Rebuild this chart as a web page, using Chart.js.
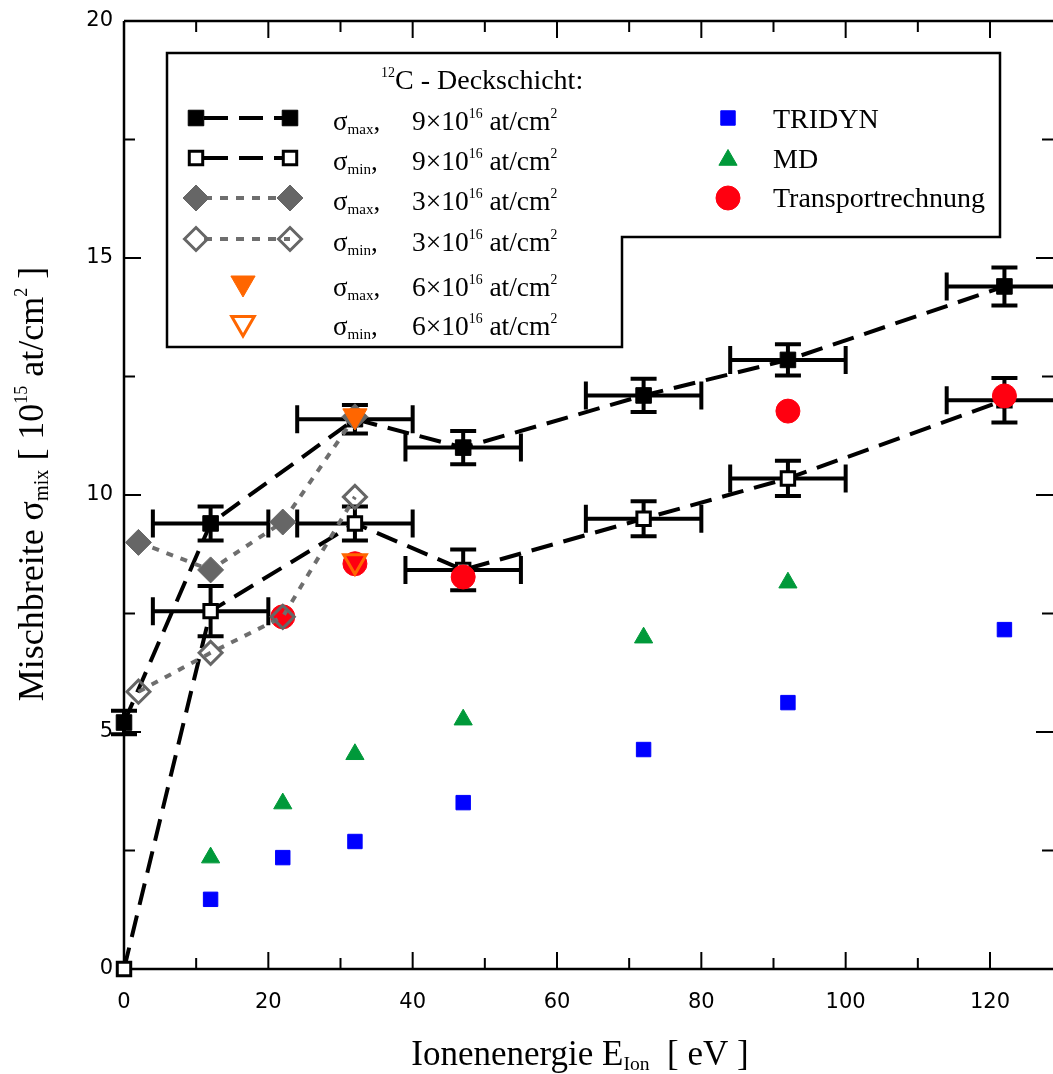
<!DOCTYPE html>
<html>
<head>
<meta charset="utf-8">
<script src="https://cdn.jsdelivr.net/npm/chart.js@4.4.1/dist/chart.umd.min.js"></script>
<style>
  html, body { margin: 0; padding: 0; background: #fff; overflow: hidden; }
  #wrap { width: 1053px; height: 1074px; }
  #myChart { display: block; }
</style>
</head>
<body>
<div id="wrap"><canvas id="myChart" width="1053" height="1074"></canvas></div>
<script>
// 12C cover layer, 9e16 at/cm2 (with error bars)
const energy = [0, 12, 32, 47, 72, 92, 122];
const sigmaMax9 = [5.2, 9.4, 11.6, 11.0, 12.1, 12.85, 14.4];
const sigmaMax9ErrX = [0, 8, 8, 8, 8, 8, 8];
const sigmaMax9ErrY = [0.25, 0.36, 0.3, 0.35, 0.35, 0.33, 0.4];
const sigmaMin9 = [0, 7.55, 9.4, 8.42, 9.5, 10.35, 12.0];
const sigmaMin9ErrX = [0, 8, 8, 8, 8, 8, 8];
const sigmaMin9ErrY = [0, 0.53, 0.36, 0.43, 0.37, 0.37, 0.47];

// 3e16 at/cm2
const energy3 = [2, 12, 22, 32];
const sigmaMax3 = [9.0, 8.42, 9.43, 11.65];
const sigmaMin3 = [5.85, 6.67, 7.43, 9.96];

// 6e16 at/cm2
const energy6 = [32];
const sigmaMax6 = [11.67];
const sigmaMin6 = [8.6];

// simulations
const tridynE = [12, 22, 32, 47, 72, 92, 122];
const tridyn = [1.47, 2.35, 2.69, 3.51, 4.63, 5.62, 7.16];
const mdE = [12, 22, 32, 47, 72, 92];
const md = [2.35, 3.49, 4.53, 5.26, 6.99, 8.15];
const transportE = [22, 32, 47, 92, 122];
const transport = [7.43, 8.55, 8.27, 11.77, 12.09];

const xTicks = [0, 20, 40, 60, 80, 100, 120];
const xMinor = [10, 30, 50, 70, 90, 110];
const yTicks = [0, 5, 10, 15, 20];
const yMinor = [2.5, 7.5, 12.5, 17.5];

const serif = '"Liberation Serif", "Times New Roman", serif';
const tickFont = '21px "DejaVu Sans", sans-serif';
const ORANGE = '#ff6600';
const GREY = '#666666';

function pts(xs, ys) {
  return xs.map((v, i) => ({ x: v, y: ys[i] }));
}

// text with sub/superscripts; returns total width
function drawRich(ctx, x, y, parts, size, measureOnly) {
  let cx = x;
  for (const [t, kind] of parts) {
    let fs = size, dy = 0;
    if (kind === 'sub') { fs = size * 0.56; dy = size * 0.15; }
    if (kind === 'sup') { fs = size * 0.5; dy = -size * 0.44; }
    ctx.font = fs + 'px ' + serif;
    if (!measureOnly) ctx.fillText(t, cx, y + dy);
    cx += ctx.measureText(t).width;
  }
  return cx - x;
}

const errorBars = {
  id: 'errorBars',
  beforeDatasetsDraw(chart) {
    const { ctx, scales: { x, y } } = chart;
    const sets = [
      [energy, sigmaMax9, sigmaMax9ErrX, sigmaMax9ErrY],
      [energy, sigmaMin9, sigmaMin9ErrX, sigmaMin9ErrY]
    ];
    ctx.save();
    ctx.strokeStyle = '#000';
    ctx.lineWidth = 4;
    for (const [xs, ys, ex, ey] of sets) {
      xs.forEach((xv, i) => {
        const px = x.getPixelForValue(xv);
        const py = y.getPixelForValue(ys[i]);
        ctx.beginPath();
        if (ex[i] > 0) {
          const l = x.getPixelForValue(xv - ex[i]);
          const r = x.getPixelForValue(xv + ex[i]);
          ctx.moveTo(l, py); ctx.lineTo(r, py);
          ctx.moveTo(l, py - 14); ctx.lineTo(l, py + 14);
          ctx.moveTo(r, py - 14); ctx.lineTo(r, py + 14);
        }
        if (ey[i] > 0) {
          const t = y.getPixelForValue(ys[i] + ey[i]);
          const b = y.getPixelForValue(ys[i] - ey[i]);
          ctx.moveTo(px, t); ctx.lineTo(px, b);
          ctx.moveTo(px - 13, t); ctx.lineTo(px + 13, t);
          ctx.moveTo(px - 13, b); ctx.lineTo(px + 13, b);
        }
        ctx.stroke();
      });
    }
    ctx.restore();
  }
};

// frame, inward ticks, tick labels and axis titles
const frame = {
  id: 'frame',
  beforeDatasetsDraw(chart) {
    const { ctx, chartArea: a, scales: { x, y } } = chart;
    ctx.save();
    ctx.strokeStyle = '#000';
    ctx.lineWidth = 2.5;
    ctx.beginPath();
    ctx.moveTo(a.left, a.top); ctx.lineTo(a.right, a.top);
    ctx.moveTo(a.left, a.top); ctx.lineTo(a.left, a.bottom);
    ctx.moveTo(a.left, a.bottom); ctx.lineTo(a.right, a.bottom);
    ctx.stroke();

    ctx.lineWidth = 2;
    ctx.beginPath();
    const tick = (v, len, isX) => {
      if (isX) {
        const p = x.getPixelForValue(v);
        ctx.moveTo(p, a.bottom); ctx.lineTo(p, a.bottom - len);
        ctx.moveTo(p, a.top); ctx.lineTo(p, a.top + len);
      } else {
        const p = y.getPixelForValue(v);
        ctx.moveTo(a.left, p); ctx.lineTo(a.left + len, p);
        ctx.moveTo(a.right, p); ctx.lineTo(a.right - len, p);
      }
    };
    xTicks.forEach(v => tick(v, 17, true));
    xMinor.forEach(v => tick(v, 11, true));
    yTicks.forEach(v => tick(v, 17, false));
    yMinor.forEach(v => tick(v, 11, false));
    ctx.stroke();

    ctx.fillStyle = '#000';
    ctx.font = tickFont;
    ctx.textBaseline = 'middle';
    ctx.textAlign = 'center';
    xTicks.forEach(v => ctx.fillText(String(v), x.getPixelForValue(v), a.bottom + 34));
    ctx.textAlign = 'right';
    yTicks.forEach(v => ctx.fillText(String(v), a.left - 11, y.getPixelForValue(v)));

    ctx.textBaseline = 'alphabetic';
    ctx.textAlign = 'left';
    const xt = [['Ionenenergie E', ''], ['Ion', 'sub'], ['  [ eV ]', '']];
    const xw = drawRich(ctx, 0, 0, xt, 35, true);
    drawRich(ctx, 580 - xw / 2, 1065, xt, 35);

    const yt = [['Mischbreite ', ''], ['σ', ''], ['mix', 'sub'], [' [ 10', ''], ['15', 'sup'],
      [' at/cm', ''], ['2', 'sup'], [' ]', '']];
    const yw = drawRich(ctx, 0, 0, yt, 36, true);
    ctx.translate(43, 484);
    ctx.rotate(-Math.PI / 2);
    drawRich(ctx, -yw / 2, 0, yt, 36);
    ctx.restore();
  }
};

const legendBox = {
  id: 'legendBox',
  afterDraw(chart) {
    const ctx = chart.ctx;
    const drawPoint = Chart.helpers.drawPoint;
    ctx.save();
    ctx.lineWidth = 2.5;
    ctx.strokeStyle = '#000';
    ctx.fillStyle = '#fff';
    ctx.beginPath();
    ctx.moveTo(167, 53); ctx.lineTo(1000, 53); ctx.lineTo(1000, 237);
    ctx.lineTo(622, 237); ctx.lineTo(622, 347); ctx.lineTo(167, 347);
    ctx.closePath();
    ctx.fill();
    ctx.stroke();

    ctx.fillStyle = '#000';
    ctx.textBaseline = 'alphabetic';
    ctx.textAlign = 'left';
    drawRich(ctx, 381, 89, [['12', 'sup'], ['C - Deckschicht:', '']], 28);

    const rows = [
      { y: 118, base: 130, sub: 'max', dose: '9', line: 'dash', style: 'rect', r: 11, fill: '#000', stroke: '#000', bw: 1 },
      { y: 158, base: 170, sub: 'min', dose: '9', line: 'dash', style: 'rect', r: 9.5, fill: '#fff', stroke: '#000', bw: 3 },
      { y: 198, base: 210, sub: 'max', dose: '3', line: 'dot', style: 'rectRot', r: 13, fill: GREY, stroke: GREY, bw: 1 },
      { y: 239, base: 251, sub: 'min', dose: '3', line: 'dot', style: 'rectRot', r: 11.5, fill: 'rgba(0,0,0,0)', stroke: GREY, bw: 3 },
      { y: 283, base: 296, sub: 'max', dose: '6', line: null, style: 'triangle', r: 14, fill: ORANGE, stroke: ORANGE, bw: 1 },
      { y: 323, base: 335, sub: 'min', dose: '6', line: null, style: 'triangle', r: 13, fill: 'rgba(0,0,0,0)', stroke: ORANGE, bw: 3 }
    ];
    rows.forEach(row => {
      const marks = row.line ? [196, 290] : [243];
      if (row.line) {
        ctx.save();
        ctx.lineWidth = 4;
        if (row.line === 'dash') {
          ctx.strokeStyle = '#000';
          ctx.setLineDash([24, 11]);
        } else {
          ctx.strokeStyle = '#6e6e6e';
          ctx.setLineDash([8, 8]);
        }
        ctx.lineDashOffset = -8;
        ctx.beginPath();
        ctx.moveTo(196, row.y); ctx.lineTo(290, row.y);
        ctx.stroke();
        ctx.restore();
      }
      marks.forEach(mx => {
        ctx.fillStyle = row.fill;
        ctx.strokeStyle = row.stroke;
        ctx.lineWidth = row.bw;
        drawPoint(ctx, { pointStyle: row.style, radius: row.r, rotation: row.style === 'triangle' ? 180 : 0, borderWidth: row.bw }, mx, row.y);
      });
      ctx.fillStyle = '#000';
      drawRich(ctx, 333, row.base, [['σ', ''], [row.sub, 'sub'], [',', '']], 27);
      drawRich(ctx, 412, row.base, [[row.dose + '×10', ''], ['16', 'sup'], [' at/cm', ''], ['2', 'sup']], 27.5);
    });

    const sims = [
      { y: 118, base: 128, text: 'TRIDYN', style: 'rect', r: 10.2, color: '#0000ff' },
      { y: 160, base: 168, text: 'MD', style: 'triangle', r: 10.5, color: '#00993a' },
      { y: 198, base: 207, text: 'Transportrechnung', style: 'circle', r: 12, color: '#ff0010' }
    ];
    sims.forEach(s => {
      ctx.fillStyle = s.color;
      ctx.strokeStyle = s.color;
      ctx.lineWidth = 1;
      drawPoint(ctx, { pointStyle: s.style, radius: s.r, rotation: 0, borderWidth: 1 }, 728, s.y);
      ctx.fillStyle = '#000';
      ctx.font = '28px ' + serif;
      ctx.fillText(s.text, 773, s.base);
    });
    ctx.restore();
  }
};

const dashed = { showLine: true, borderColor: '#000', borderWidth: 4, borderDash: [22, 11] };
const dotted = { showLine: true, borderColor: '#6e6e6e', borderWidth: 4, borderDash: [7, 8] };

const datasets = [
  { label: 'σmax 6e16', data: pts(energy6, sigmaMax6), pointStyle: 'triangle', pointRotation: 180, pointRadius: 14,
    backgroundColor: ORANGE, borderColor: ORANGE, pointBorderWidth: 1, order: 0 },
  { label: 'σmin 6e16', data: pts(energy6, sigmaMin6), pointStyle: 'triangle', pointRotation: 180, pointRadius: 13,
    backgroundColor: 'rgba(0,0,0,0)', borderColor: ORANGE, pointBorderWidth: 3, order: 1 },
  Object.assign({ label: 'σmin 3e16', data: pts(energy3, sigmaMin3), pointStyle: 'rectRot', pointRadius: 11.5,
    pointBackgroundColor: 'rgba(0,0,0,0)', pointBorderColor: GREY, pointBorderWidth: 3, order: 2 }, dotted),
  Object.assign({ label: 'σmax 3e16', data: pts(energy3, sigmaMax3), pointStyle: 'rectRot', pointRadius: 13,
    pointBackgroundColor: GREY, pointBorderColor: GREY, pointBorderWidth: 1, order: 3 }, dotted),
  { label: 'Transportrechnung', data: pts(transportE, transport), pointStyle: 'circle', pointRadius: 12,
    backgroundColor: '#ff0010', borderColor: '#ff0010', pointBorderWidth: 1, order: 4 },
  Object.assign({ label: 'σmin 9e16', data: pts(energy, sigmaMin9), pointStyle: 'rect', pointRadius: 9.5,
    pointBackgroundColor: '#fff', pointBorderColor: '#000', pointBorderWidth: 3, order: 5 }, dashed),
  Object.assign({ label: 'σmax 9e16', data: pts(energy, sigmaMax9), pointStyle: 'rect', pointRadius: 11,
    pointBackgroundColor: '#000', pointBorderColor: '#000', pointBorderWidth: 1, order: 6 }, dashed),
  { label: 'MD', data: pts(mdE, md), pointStyle: 'triangle', pointRadius: 10.5,
    backgroundColor: '#00993a', borderColor: '#00993a', pointBorderWidth: 1, order: 7 },
  { label: 'TRIDYN', data: pts(tridynE, tridyn), pointStyle: 'rect', pointRadius: 10.2,
    backgroundColor: '#0000ff', borderColor: '#0000ff', pointBorderWidth: 1, order: 8 }
];
datasets.forEach(d => { d.clip = false; d.pointHoverRadius = d.pointRadius; });

const config = {
  type: 'scatter',
  data: { datasets: datasets },
  options: {
    responsive: false,
    devicePixelRatio: 1,
    animation: false,
    layout: { autoPadding: false, padding: { left: 124, top: 21, right: 0, bottom: 105 } },
    scales: {
      x: { type: 'linear', min: 0, max: 128.73, display: false },
      y: { type: 'linear', min: 0, max: 20, display: false }
    },
    plugins: {
      legend: { display: false },
      tooltip: { enabled: false }
    }
  },
  plugins: [frame, errorBars, legendBox]
};

const myChart = new Chart(document.getElementById('myChart'), config);
</script>
</body>
</html>
